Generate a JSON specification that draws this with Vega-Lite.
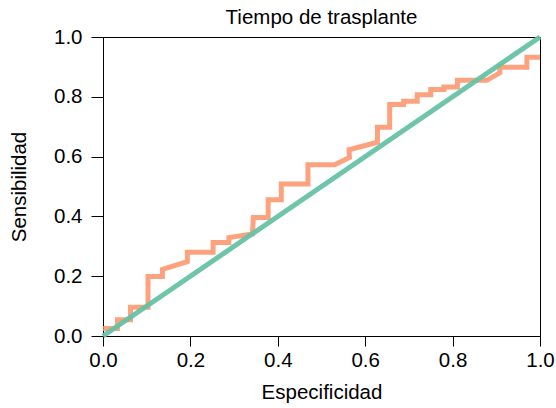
{
  "$schema": "https://vega.github.io/schema/vega-lite/v6.json",
  "width": 437,
  "height": 299,
  "autosize": {"type": "none"},
  "padding": {"left": 103, "top": 37, "right": 16, "bottom": 72},
  "background": "white",
  "title": {
    "text": "Tiempo de trasplante",
    "font": "Liberation Sans",
    "fontSize": 20.5,
    "fontWeight": "normal",
    "color": "black",
    "anchor": "middle",
    "frame": "group",
    "baseline": "bottom",
    "offset": 6,
    "dy": 27
  },
  "config": {
    "view": {"stroke": "black", "strokeWidth": 1},
    "axis": {
      "grid": false,
      "domainColor": "black",
      "tickColor": "black",
      "labelColor": "black",
      "titleColor": "black",
      "labelFont": "Liberation Sans",
      "titleFont": "Liberation Sans",
      "labelFontSize": 20.5,
      "titleFontSize": 20.5,
      "titleFontWeight": "normal"
    }
  },
  "datasets": {
    "roc": [
      {"i": 1, "fpr": 0.0, "tpr": 0.025},
      {"i": 2, "fpr": 0.033, "tpr": 0.025},
      {"i": 3, "fpr": 0.033, "tpr": 0.054},
      {"i": 4, "fpr": 0.063, "tpr": 0.054},
      {"i": 5, "fpr": 0.063, "tpr": 0.096},
      {"i": 6, "fpr": 0.103, "tpr": 0.096},
      {"i": 7, "fpr": 0.103, "tpr": 0.199},
      {"i": 8, "fpr": 0.136, "tpr": 0.199},
      {"i": 9, "fpr": 0.136, "tpr": 0.223},
      {"i": 10, "fpr": 0.193, "tpr": 0.249},
      {"i": 11, "fpr": 0.193, "tpr": 0.28},
      {"i": 12, "fpr": 0.252, "tpr": 0.28},
      {"i": 13, "fpr": 0.252, "tpr": 0.313},
      {"i": 14, "fpr": 0.288, "tpr": 0.313},
      {"i": 15, "fpr": 0.288, "tpr": 0.329},
      {"i": 16, "fpr": 0.342, "tpr": 0.341},
      {"i": 17, "fpr": 0.344, "tpr": 0.396},
      {"i": 18, "fpr": 0.378, "tpr": 0.396},
      {"i": 19, "fpr": 0.378, "tpr": 0.456},
      {"i": 20, "fpr": 0.408, "tpr": 0.456},
      {"i": 21, "fpr": 0.408, "tpr": 0.508},
      {"i": 22, "fpr": 0.469, "tpr": 0.508},
      {"i": 23, "fpr": 0.469, "tpr": 0.573},
      {"i": 24, "fpr": 0.53, "tpr": 0.573},
      {"i": 25, "fpr": 0.564, "tpr": 0.597},
      {"i": 26, "fpr": 0.563, "tpr": 0.623},
      {"i": 27, "fpr": 0.628, "tpr": 0.648},
      {"i": 28, "fpr": 0.628, "tpr": 0.698},
      {"i": 29, "fpr": 0.656, "tpr": 0.698},
      {"i": 30, "fpr": 0.656, "tpr": 0.774},
      {"i": 31, "fpr": 0.688, "tpr": 0.774},
      {"i": 32, "fpr": 0.688, "tpr": 0.785},
      {"i": 33, "fpr": 0.719, "tpr": 0.785},
      {"i": 34, "fpr": 0.719, "tpr": 0.807},
      {"i": 35, "fpr": 0.75, "tpr": 0.807},
      {"i": 36, "fpr": 0.75, "tpr": 0.824},
      {"i": 37, "fpr": 0.78, "tpr": 0.824},
      {"i": 38, "fpr": 0.78, "tpr": 0.833},
      {"i": 39, "fpr": 0.811, "tpr": 0.833},
      {"i": 40, "fpr": 0.811, "tpr": 0.855},
      {"i": 41, "fpr": 0.878, "tpr": 0.855},
      {"i": 42, "fpr": 0.908, "tpr": 0.88},
      {"i": 43, "fpr": 0.908, "tpr": 0.899},
      {"i": 44, "fpr": 0.97, "tpr": 0.899},
      {"i": 45, "fpr": 0.97, "tpr": 0.932},
      {"i": 46, "fpr": 1.0, "tpr": 0.932}
    ],
    "ref": [
      {"fpr": 0.0, "tpr": 0.0},
      {"fpr": 1.0, "tpr": 1.0}
    ]
  },
  "encoding": {
    "x": {
      "field": "fpr",
      "type": "quantitative",
      "scale": {"domain": [0, 1], "nice": false, "zero": false},
      "axis": {
        "title": "Especificidad",
        "values": [0, 0.2, 0.4, 0.6, 0.8, 1.0],
        "format": ".1f",
        "tickSize": 10,
        "labelPadding": 4,
        "labelFlush": false,
        "labelOverlap": false,
        "titleBaseline": "alphabetic",
        "titleY": 62,
        "titleX": 218.5,
        "titleAnchor": "middle"
      }
    },
    "y": {
      "field": "tpr",
      "type": "quantitative",
      "scale": {"domain": [0, 1], "nice": false, "zero": false},
      "axis": {
        "title": "Sensibilidad",
        "values": [0, 0.2, 0.4, 0.6, 0.8, 1.0],
        "format": ".1f",
        "tickSize": 12,
        "labelPadding": 9,
        "labelFlush": false,
        "labelOverlap": false,
        "titleAngle": -90,
        "titleBaseline": "middle",
        "titleAnchor": "middle",
        "titleX": -84,
        "titleY": 149.5
      }
    }
  },
  "layer": [
    {
      "data": {"name": "roc"},
      "mark": {"type": "line", "color": "#fc8d62", "opacity": 0.82, "strokeWidth": 5, "strokeJoin": "miter", "strokeCap": "butt", "clip": false},
      "encoding": {"order": {"field": "i", "type": "quantitative"}}
    },
    {
      "data": {"name": "ref"},
      "mark": {"type": "line", "color": "#66c2a5", "opacity": 0.95, "strokeWidth": 5, "strokeCap": "butt"},
      "encoding": {}
    }
  ]
}
